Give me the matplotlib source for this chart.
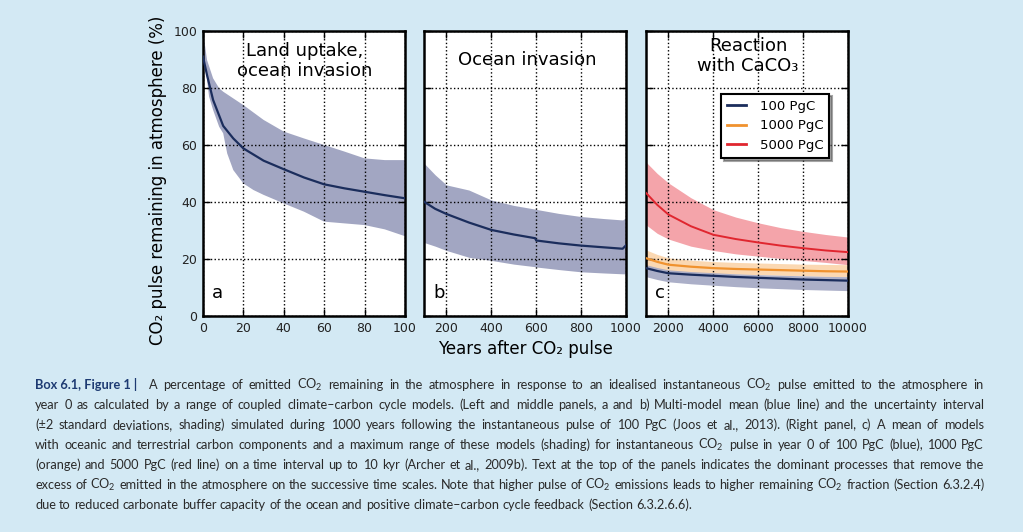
import matplotlib
matplotlib.use('Agg')
import matplotlib.pyplot as plt
from matplotlib.lines import Line2D
from matplotlib import font_manager

installed = {f.name for f in font_manager.fontManager.ttflist}
CAP_FONT = 'Lato' if 'Lato' in installed else 'DejaVu Sans'

plt.rcParams['font.family'] = 'DejaVu Sans'
plt.rcParams['mathtext.fontset'] = 'custom'
plt.rcParams['mathtext.rm'] = CAP_FONT
plt.rcParams['mathtext.it'] = CAP_FONT + ':italic'
plt.rcParams['mathtext.bf'] = CAP_FONT + ':bold'

# ---- data ----
# panel a: 0-100 years, 100 PgC pulse, multi-model mean and +-2 sd
a_years = [0, 2, 5, 10, 15, 20, 30, 40, 50, 60, 70, 80, 90, 100]
a_mean = [91, 84.5, 75.8, 66.7, 62.3, 58.8, 54.5, 51.5, 48.6, 46.2, 44.8, 43.6, 42.4, 41.3]
a_up_years = [0, 2, 5, 8, 10, 20, 30, 40, 50, 60, 70, 80, 90, 100]
a_upper = [100, 89.8, 83.4, 79.9, 78.7, 74, 68.8, 64.7, 62.3, 60, 57.7, 55.3, 54.7, 54.7]
a_lo_years = [0, 3, 5, 8, 10, 12, 15, 20, 25, 30, 40, 50, 60, 70, 80, 90, 100]
a_lower = [94.5, 77, 72.3, 66.4, 64.1, 57, 51.2, 46.5, 44.2, 42.5, 39.5, 36.6, 33.1, 32.5, 31.9, 30.4, 28]

# panel b: 100-1000 years
b_years = [100, 150, 200, 300, 400, 500, 595, 600, 700, 800, 900, 985, 1000]
b_mean = [40.1, 37.6, 35.8, 32.8, 30.2, 28.6, 27.3, 26.5, 25.5, 24.7, 24.1, 23.6, 24.8]
b_upper = [53.6, 49.5, 46.0, 44.2, 40.7, 38.8, 37.5, 37.4, 36.0, 34.9, 34.2, 33.7, 34.5]
b_lower = [25.8, 24.5, 23.0, 20.6, 19.5, 18.2, 17.3, 17.2, 16.3, 15.5, 15.1, 14.8, 14.8]

# panel c: 1000-10000 years, three pulse sizes
c_years = [1000, 1500, 2000, 3000, 4000, 5000, 6000, 7000, 8000, 9000, 10000]
c_red_mean = [43.2, 39.0, 35.6, 31.5, 28.5, 27.0, 25.8, 24.7, 23.8, 23.0, 22.4]
c_red_upper = [54.0, 50.0, 46.7, 41.5, 37.3, 34.7, 32.7, 31.0, 29.7, 28.6, 27.7]
c_red_lower = [32.0, 29.0, 27.0, 24.5, 23.0, 21.8, 21.0, 20.2, 19.5, 18.8, 18.0]
c_org_mean = [20.3, 19.0, 18.0, 17.3, 16.8, 16.5, 16.3, 16.1, 15.9, 15.7, 15.6]
c_org_upper = [23.2, 21.6, 20.4, 19.6, 19.1, 18.8, 18.6, 18.4, 18.2, 18.1, 18.0]
c_org_lower = [17.4, 16.4, 15.8, 15.3, 15.0, 14.7, 14.5, 14.3, 14.1, 13.9, 13.8]
c_blu_mean = [16.8, 15.8, 15.0, 14.5, 14.1, 13.7, 13.4, 13.1, 12.8, 12.6, 12.4]
c_blu_upper = [18.0, 17.0, 16.2, 15.6, 15.2, 14.8, 14.5, 14.3, 14.1, 13.9, 13.8]
c_blu_lower = [13.8, 12.8, 12.0, 11.3, 10.8, 10.3, 9.9, 9.6, 9.3, 9.1, 8.9]

pulse_labels = ['100 PgC', '1000 PgC', '5000 PgC']

caption_head = 'Box 6.1, Figure 1 |'
caption_lines = [
    "A percentage of emitted CO₂ remaining in the atmosphere in response to an idealised instantaneous CO₂ pulse emitted to the atmosphere in",
    "year 0 as calculated by a range of coupled climate–carbon cycle models. (Left and middle panels, a and b) Multi-model mean (blue line) and the uncertainty interval",
    "(±2 standard deviations, shading) simulated during 1000 years following the instantaneous pulse of 100 PgC (Joos et al., 2013). (Right panel, c) A mean of models",
    "with oceanic and terrestrial carbon components and a maximum range of these models (shading) for instantaneous CO₂ pulse in year 0 of 100 PgC (blue), 1000 PgC",
    "(orange) and 5000 PgC (red line) on a time interval up to 10 kyr (Archer et al., 2009b). Text at the top of the panels indicates the dominant processes that remove the",
    "excess of CO₂ emitted in the atmosphere on the successive time scales. Note that higher pulse of CO₂ emissions leads to higher remaining CO₂ fraction (Section 6.3.2.4)",
    "due to reduced carbonate buffer capacity of the ocean and positive climate–carbon cycle feedback (Section 6.3.2.6.6).",
]

BG = '#d3e9f4'
BLUE = '#1b2d5c'
BLUE_SH = '#a2a6c2'
ORANGE = '#f0922e'
ORANGE_SH = '#fbd2a5'
RED = '#e0262f'
RED_SH = '#f4a4aa'

W, H = 1023, 532
fig = plt.figure(figsize=(W / 100, H / 100), dpi=100, facecolor=BG)


def px_axes(x0, x1, y0, y1):
    return fig.add_axes([x0 / W, (H - y1) / H, (x1 - x0) / W, (y1 - y0) / H])


ax_a = px_axes(203, 405, 31, 316)
ax_b = px_axes(424, 626, 31, 316)
ax_c = px_axes(646, 848, 31, 316)

for ax in (ax_a, ax_b, ax_c):
    ax.set_facecolor('white')
    ax.set_ylim(0, 100)
    ax.set_yticks([0, 20, 40, 60, 80, 100])
    for s in ax.spines.values():
        s.set_linewidth(1.8)
    ax.tick_params(direction='in', top=True, right=True, length=5, width=1,
                   labelsize=9, labelcolor='#222222', pad=4)
    ax.grid(True, linestyle=':', color='black', linewidth=1)
    ax.set_axisbelow(False)

# panel a
ax_a.fill(a_up_years + a_lo_years[::-1], a_upper + a_lower[::-1], color=BLUE_SH, lw=0, zorder=1)
ax_a.plot(a_years, a_mean, color=BLUE, lw=1.6, zorder=3)
ax_a.set_xlim(0, 100)
ax_a.set_xticks([0, 20, 40, 60, 80, 100])

# panel b
ax_b.fill_between(b_years, b_lower, b_upper, color=BLUE_SH, lw=0, zorder=1)
ax_b.plot(b_years, b_mean, color=BLUE, lw=1.6, zorder=3)
ax_b.set_xlim(100, 1000)
ax_b.set_xticks([200, 400, 600, 800, 1000])
ax_b.tick_params(labelleft=False)

# panel c
ax_c.fill_between(c_years, c_red_lower, c_red_upper, color=RED_SH, lw=0, zorder=1)
ax_c.fill_between(c_years, c_org_lower, c_org_upper, color=ORANGE_SH, lw=0, alpha=0.85, zorder=1)
ax_c.fill_between(c_years, c_blu_lower, c_blu_upper, color=BLUE_SH, lw=0, alpha=0.9, zorder=1)
ax_c.plot(c_years, c_red_mean, color=RED, lw=1.4, zorder=3)
ax_c.plot(c_years, c_org_mean, color=ORANGE, lw=1.6, zorder=3)
ax_c.plot(c_years, c_blu_mean, color=BLUE, lw=1.6, zorder=3)
ax_c.set_xlim(1000, 10000)
ax_c.set_xticks([2000, 4000, 6000, 8000, 10000])
ax_c.tick_params(labelleft=False)

handles = [Line2D([], [], color=c, lw=2) for c in (BLUE, ORANGE, RED)]
leg = ax_c.legend(handles, pulse_labels, loc='upper left', bbox_to_anchor=(0.37, 0.78),
                  fontsize=9.5, frameon=True, fancybox=False, shadow=True,
                  edgecolor='black', handlelength=1.5, handletextpad=1.0,
                  labelspacing=0.5, borderpad=0.45, borderaxespad=0)
leg.get_frame().set_linewidth(1.5)

# panel headings and letters
ax_a.text(0.505, 0.96, 'Land uptake,\nocean invasion', transform=ax_a.transAxes,
          ha='center', va='top', fontsize=13, linespacing=1.12, zorder=5)
ax_b.text(0.51, 0.898, 'Ocean invasion', transform=ax_b.transAxes,
          ha='center', va='center', fontsize=13, zorder=5)
ax_c.text(0.505, 0.978, 'Reaction\nwith CaCO₃', transform=ax_c.transAxes,
          ha='center', va='top', fontsize=13, linespacing=1.12, zorder=5)
for ax, letter in ((ax_a, 'a'), (ax_b, 'b'), (ax_c, 'c')):
    ax.text(0.045, 0.08, letter, transform=ax.transAxes, ha='left', va='center',
            fontsize=13, zorder=5)

fig.text(158 / W, (H - 180) / H, 'CO₂ pulse remaining in atmosphere (%)',
         rotation=90, ha='center', va='center', fontsize=12)
fig.text(525 / W, (H - 349) / H, 'Years after CO₂ pulse', ha='center', va='center',
         fontsize=12)

# ---- caption: justified word by word ----
# no narrow face is installed; the subscript goes through mathtext so that
# no font fallback list is needed
renderer = fig.canvas.get_renderer()
left, right = 35, 984


def cap_word(w):
    return w.replace('CO₂', r'CO$_2$')


def text_width(s, size, **kw):
    t = fig.text(0, 0, s, fontsize=size, family=CAP_FONT, **kw)
    w = t.get_window_extent(renderer=renderer).width
    t.remove()
    return w


def space_width(size):
    return text_width('n n', size) - text_width('nn', size)


def natural_width(line, size):
    words = line.split(' ')
    return sum(text_width(cap_word(w), size) for w in words) + (len(words) - 1) * space_width(size)


head_w = text_width(caption_head, 10, weight='bold') + 12
widest = max(natural_width(line, 10) + (head_w if i == 0 else 0)
             for i, line in enumerate(caption_lines))
cap_size = min(10.5, 10 * (right - left - 2) / widest)


def caption_line(text, x0, x1, y, justify=True):
    words = text.split(' ')
    items = [fig.text(0, (H - y) / H, cap_word(w), fontsize=cap_size, color='#2a2a2a',
                      va='baseline', ha='left', family=CAP_FONT) for w in words]
    widths = [t.get_window_extent(renderer=renderer).width for t in items]
    if justify and len(words) > 1:
        gap = (x1 - x0 - sum(widths)) / (len(words) - 1)
    else:
        gap = space_width(cap_size)
    x = x0
    for t, w in zip(items, widths):
        t.set_x(x / W)
        x += w + gap


bold = fig.text(left / W, (H - 389) / H, caption_head, fontsize=cap_size,
                weight='bold', color='#1d3a72', va='baseline', family=CAP_FONT)
bold_w = bold.get_window_extent(renderer=renderer).width
line_x0 = [left + bold_w + 12] + [left] * 6
for i, line in enumerate(caption_lines):
    caption_line(line, line_x0[i], right, 389 + 20 * i, justify=(i < len(caption_lines) - 1))

fig.savefig('out.png', dpi=100, facecolor=BG)
